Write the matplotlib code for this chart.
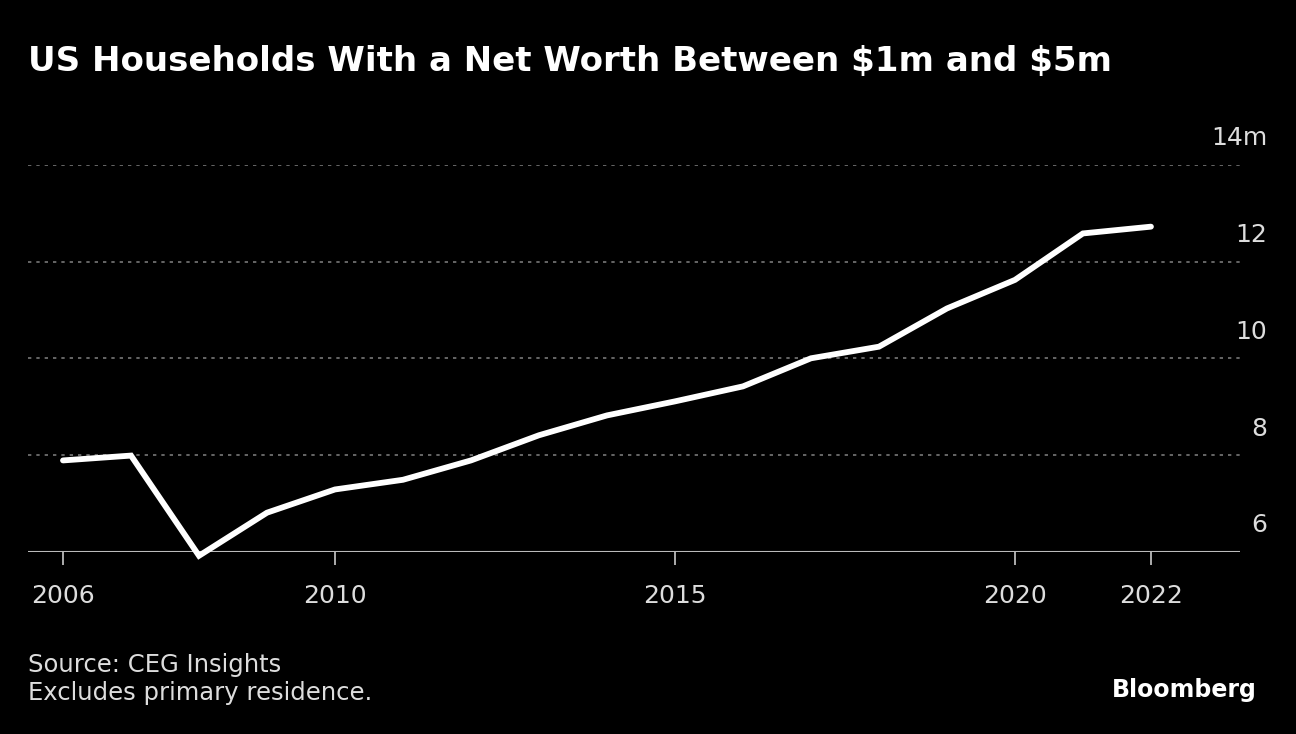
import matplotlib
matplotlib.use("Agg")
import matplotlib.pyplot as plt

# DATOS
# -------------------------
years = [2006, 2007, 2008, 2009, 2010, 2011, 2012, 2013, 2014, 2015,
         2016, 2017, 2018, 2019, 2020, 2021, 2022]
households_m = [7.89, 7.99, 5.92, 6.81, 7.29, 7.49, 7.89, 8.41, 8.82, 9.11,
                9.42, 10.0, 10.24, 11.03, 11.62, 12.58, 12.72]
x_ticks = [2006, 2010, 2015, 2020, 2022]
y_ticks = [6, 8, 10, 12, 14]
y_labels = ["6", "8", "10", "12", "14m"]

title = r"US Households With a Net Worth Between \$1m and \$5m"
source = "Source: CEG Insights\nExcludes primary residence."

BG = "black"
FONT = "DejaVu Sans"

# FIGURA
# -------------------------
fig = plt.figure(figsize=(12.96, 7.34), dpi=100, facecolor=BG)
ax = fig.add_axes([0.0216, 0.2481, 0.9352, 0.5275], facecolor=BG)

ax.plot(years, households_m, color="white", lw=4.2, solid_capstyle="round",
        solid_joinstyle="miter", zorder=3, clip_on=False)

ax.set_xlim(2005.485, 2023.31)
ax.set_ylim(6, 14)

# grid lines
for v in y_ticks[1:]:
    ax.axhline(v, color="#777777", lw=1.2, ls=(0, (2, 3)), zorder=1)
ax.axhline(6, color="#bbbbbb", lw=1.5, zorder=2)

for s in ax.spines.values():
    s.set_visible(False)

ax.set_yticks([])
ax.set_xticks(x_ticks)
ax.set_xticklabels([str(x) for x in x_ticks], family=FONT, fontsize=18,
                   color="#dddddd")
ax.tick_params(axis="x", length=9, width=1.3, color="#bbbbbb", pad=14)

# y labels above gridlines, right side
for v, lab in zip(y_ticks, y_labels):
    ax.text(1.0225, v + 0.3, lab, transform=ax.get_yaxis_transform(),
            ha="right", va="bottom", family=FONT, fontsize=18,
            color="#dddddd")

fig.text(0.0216, 0.916, title, ha="left", va="center", fontsize=24.5,
         fontweight="bold", color="white", family=FONT)
fig.text(0.0216, 0.075, source, ha="left", va="center", family=FONT,
         fontsize=17.5, color="#dddddd", linespacing=1.25)
fig.text(0.97, 0.06, "Bloomberg", ha="right", va="center", fontsize=17,
         fontweight="bold", color="white", family=FONT)

fig.savefig("out.png", dpi=100, facecolor=BG)
